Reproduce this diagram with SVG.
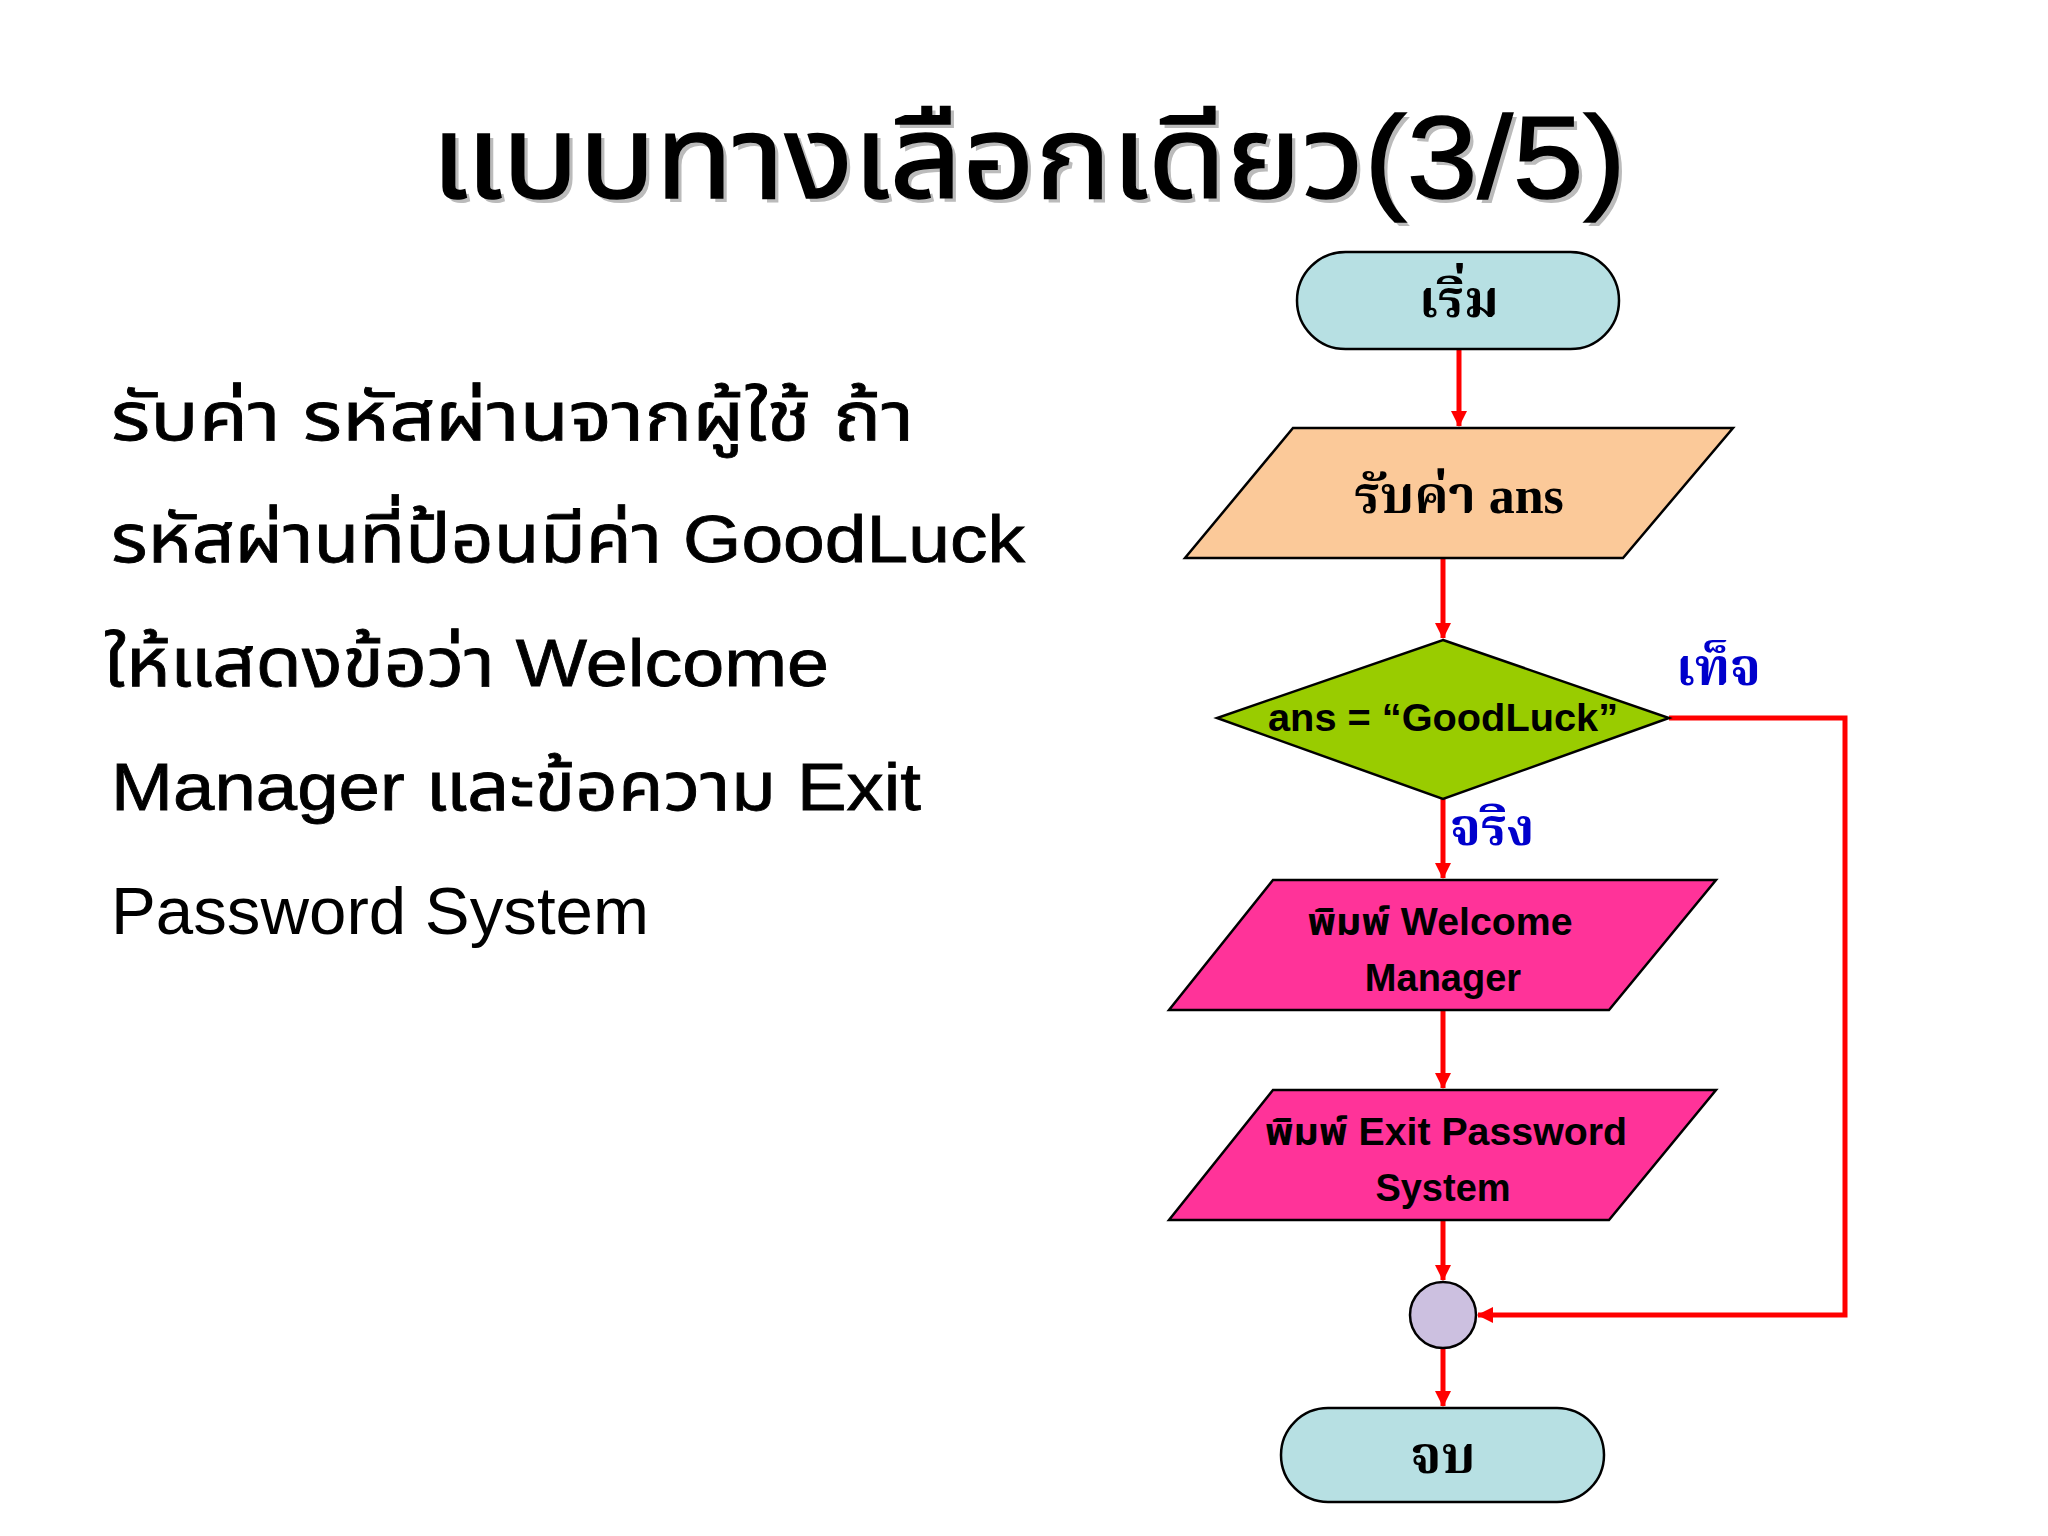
<svg xmlns="http://www.w3.org/2000/svg" width="2048" height="1536" viewBox="0 0 2048 1536">
<defs>
<marker id="ah" markerWidth="16" markerHeight="16" refX="15" refY="8" orient="auto" markerUnits="userSpaceOnUse" viewBox="0 0 16 16"><path d="M0,0 L16,8 L0,16 z" fill="#ff0000"/></marker>
<style>
.sh{stroke:#000;stroke-width:2.5}
.c{fill:none;stroke:#ff0000;stroke-width:5}
.ser{font-family:"Liberation Serif","Noto Serif Thai","Noto Sans Thai",serif;font-weight:bold;fill:#000}
.ss{font-family:"Liberation Sans","Noto Sans Thai","Noto Sans",sans-serif;font-weight:bold;fill:#000}
.body{font-family:"Liberation Sans","Noto Sans Thai","Noto Sans",sans-serif;font-size:67px;fill:#000}
.lbl{font-family:"Liberation Serif","Noto Serif Thai","Noto Sans Thai",serif;font-weight:bold;font-size:52px;fill:#0000cc}
</style>
</defs>
<rect width="2048" height="1536" fill="#fff"/>
<text x="435" y="202" textLength="1195" lengthAdjust="spacingAndGlyphs" font-family="Liberation Sans,Noto Sans Thai,sans-serif" font-size="116" fill="#bbb">แบบทางเลือกเดียว(3/5)</text>
<text x="431" y="198" textLength="1195" lengthAdjust="spacingAndGlyphs" font-family="Liberation Sans,Noto Sans Thai,sans-serif" font-size="116" fill="#000" stroke="#000" stroke-width="1.5">แบบทางเลือกเดียว(3/5)</text>
<g id="desc" class="body">
<text x="111" y="440" textLength="803" lengthAdjust="spacingAndGlyphs" stroke="#000" stroke-width="0.8">รับค่า รหัสผ่านจากผู้ใช้ ถ้า</text>
<text x="111" y="562" textLength="914" lengthAdjust="spacingAndGlyphs" stroke="#000" stroke-width="0.8">รหัสผ่านที่ป้อนมีค่า GoodLuck</text>
<text x="104" y="686" textLength="725" lengthAdjust="spacingAndGlyphs" stroke="#000" stroke-width="0.8">ให้แสดงข้อว่า Welcome</text>
<text x="111" y="810" textLength="810" lengthAdjust="spacingAndGlyphs" stroke="#000" stroke-width="0.8">Manager และข้อความ Exit</text>
<text x="111" y="934" textLength="538" lengthAdjust="spacingAndGlyphs">Password System</text>
</g>
<g id="connectors">
<line class="c" x1="1459" y1="349" x2="1459" y2="426" marker-end="url(#ah)"/>
<line class="c" x1="1443" y1="558" x2="1443" y2="638" marker-end="url(#ah)"/>
<line class="c" x1="1443" y1="799" x2="1443" y2="878" marker-end="url(#ah)"/>
<line class="c" x1="1443" y1="1010" x2="1443" y2="1088" marker-end="url(#ah)"/>
<line class="c" x1="1443" y1="1220" x2="1443" y2="1280" marker-end="url(#ah)"/>
<line class="c" x1="1443" y1="1348" x2="1443" y2="1406" marker-end="url(#ah)"/>
<polyline class="c" points="1669,718 1845,718 1845,1315 1478,1315" marker-end="url(#ah)"/>
<text class="lbl" x="1676" y="685">เท็จ</text>
<text class="lbl" x="1450" y="845">จริง</text>
</g>
<g id="start">
<rect class="sh" x="1297" y="252" width="322" height="97" rx="48.5" fill="#b7e0e3"/>
<text class="ser" x="1459" y="317" text-anchor="middle" font-size="52">เริ่ม</text>
</g>
<g id="input">
<polygon class="sh" points="1293,428 1733,428 1623,558 1185,558" fill="#fbc999"/>
<text class="ser" x="1459" y="513" text-anchor="middle" font-size="52">รับค่า ans</text>
</g>
<g id="decision">
<polygon class="sh" points="1443,640 1669,718 1443,799 1217,718" fill="#99cc00"/>
<text class="ss" x="1443" y="731" text-anchor="middle" font-size="38" textLength="350" lengthAdjust="spacingAndGlyphs">ans = “GoodLuck”</text>
</g>
<g id="welcome">
<polygon class="sh" points="1273,880 1716,880 1609,1010 1169,1010" fill="#ff3399"/>
<text class="ss" x="1440" y="935" text-anchor="middle" font-size="38" textLength="265" lengthAdjust="spacingAndGlyphs">พิมพ์ Welcome</text>
<text class="ss" x="1443" y="991" text-anchor="middle" font-size="38">Manager</text>
</g>
<g id="exit">
<polygon class="sh" points="1273,1090 1716,1090 1609,1220 1169,1220" fill="#ff3399"/>
<text class="ss" x="1446" y="1145" text-anchor="middle" font-size="38" textLength="362" lengthAdjust="spacingAndGlyphs">พิมพ์ Exit Password</text>
<text class="ss" x="1443" y="1201" text-anchor="middle" font-size="38">System</text>
</g>
<g id="connector-node">
<circle class="sh" cx="1443" cy="1315" r="33" fill="#ccc0e0"/>
</g>
<g id="end">
<rect class="sh" x="1281" y="1408" width="323" height="94" rx="47" fill="#b7e0e3"/>
<text class="ser" x="1443" y="1473" text-anchor="middle" font-size="52">จบ</text>
</g>
</svg>
